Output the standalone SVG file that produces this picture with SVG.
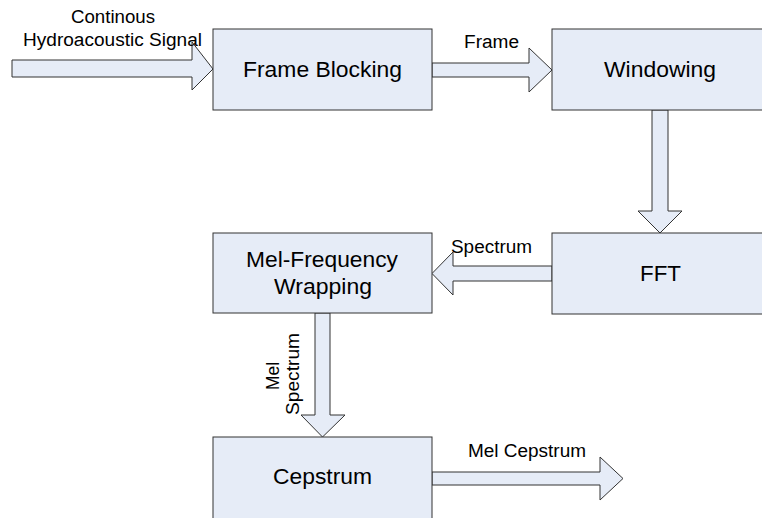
<svg xmlns="http://www.w3.org/2000/svg" width="762" height="518" viewBox="0 0 762 518">
<style>
.box{fill:#E6ECF7;stroke:#333;stroke-width:1}
.arr{fill:#E6ECF7;stroke:#333;stroke-width:1;stroke-linejoin:miter}
.bt{font-family:"Liberation Sans",Arial,sans-serif;font-size:21.5px;fill:#000;text-anchor:middle}
.lt{font-family:"Liberation Sans",Arial,sans-serif;font-size:18px;fill:#000}
</style>
<rect width="762" height="518" fill="#fff"/>
<g id="connectors">
<polygon class="arr" points="12,60 192,60 192,42 213,69 192,90 192,77 12,77"/>
<polygon class="arr" points="432,63 529,63 529,48 552,70 529,92 529,77 432,77"/>
<polygon class="arr" points="652,110 668,110 668,211 682,211 660,233 638,211 652,211"/>
<polygon class="arr" points="552,266 453,266 453,252 432,273.5 453,295 453,281 552,281"/>
<polygon class="arr" points="315,313 330,313 330,415 345,415 322.5,437 301,415 315,415"/>
<polygon class="arr" points="432,472 600,472 600,457 623,478.5 600,500 600,485 432,485"/>
<text class="lt" x="113" y="23" text-anchor="middle" textLength="84" lengthAdjust="spacingAndGlyphs">Continous</text>
<text class="lt" x="23" y="45.5" textLength="179" lengthAdjust="spacingAndGlyphs">Hydroacoustic Signal</text>
<text class="lt" x="464" y="48" textLength="55" lengthAdjust="spacingAndGlyphs">Frame</text>
<text class="lt" x="451" y="253" textLength="81" lengthAdjust="spacingAndGlyphs">Spectrum</text>
<text class="lt" x="468" y="457" textLength="118" lengthAdjust="spacingAndGlyphs">Mel Cepstrum</text>
<text class="lt" transform="translate(279,376) rotate(-90)" text-anchor="middle" textLength="28" lengthAdjust="spacingAndGlyphs">Mel</text>
<text class="lt" transform="translate(299,374) rotate(-90)" text-anchor="middle" textLength="82" lengthAdjust="spacingAndGlyphs">Spectrum</text>
</g>
<g id="frame-blocking">
<rect class="box" x="213" y="29" width="219" height="81"/>
<text class="bt" x="322.5" y="77" textLength="159" lengthAdjust="spacingAndGlyphs">Frame Blocking</text>
</g>
<g id="windowing">
<rect class="box" x="552" y="29" width="220" height="81"/>
<text class="bt" x="660" y="77" textLength="112" lengthAdjust="spacingAndGlyphs">Windowing</text>
</g>
<g id="fft">
<rect class="box" x="552" y="233" width="220" height="81"/>
<text class="bt" x="660.5" y="281" textLength="41" lengthAdjust="spacingAndGlyphs">FFT</text>
</g>
<g id="mel-frequency-wrapping">
<rect class="box" x="213" y="233" width="219" height="80"/>
<text class="bt" x="322" y="267" textLength="152" lengthAdjust="spacingAndGlyphs">Mel-Frequency</text>
<text class="bt" x="323" y="294" textLength="98" lengthAdjust="spacingAndGlyphs">Wrapping</text>
</g>
<g id="cepstrum">
<rect class="box" x="213" y="437" width="219" height="90"/>
<text class="bt" x="322.5" y="484" textLength="99" lengthAdjust="spacingAndGlyphs">Cepstrum</text>
</g>
</svg>
